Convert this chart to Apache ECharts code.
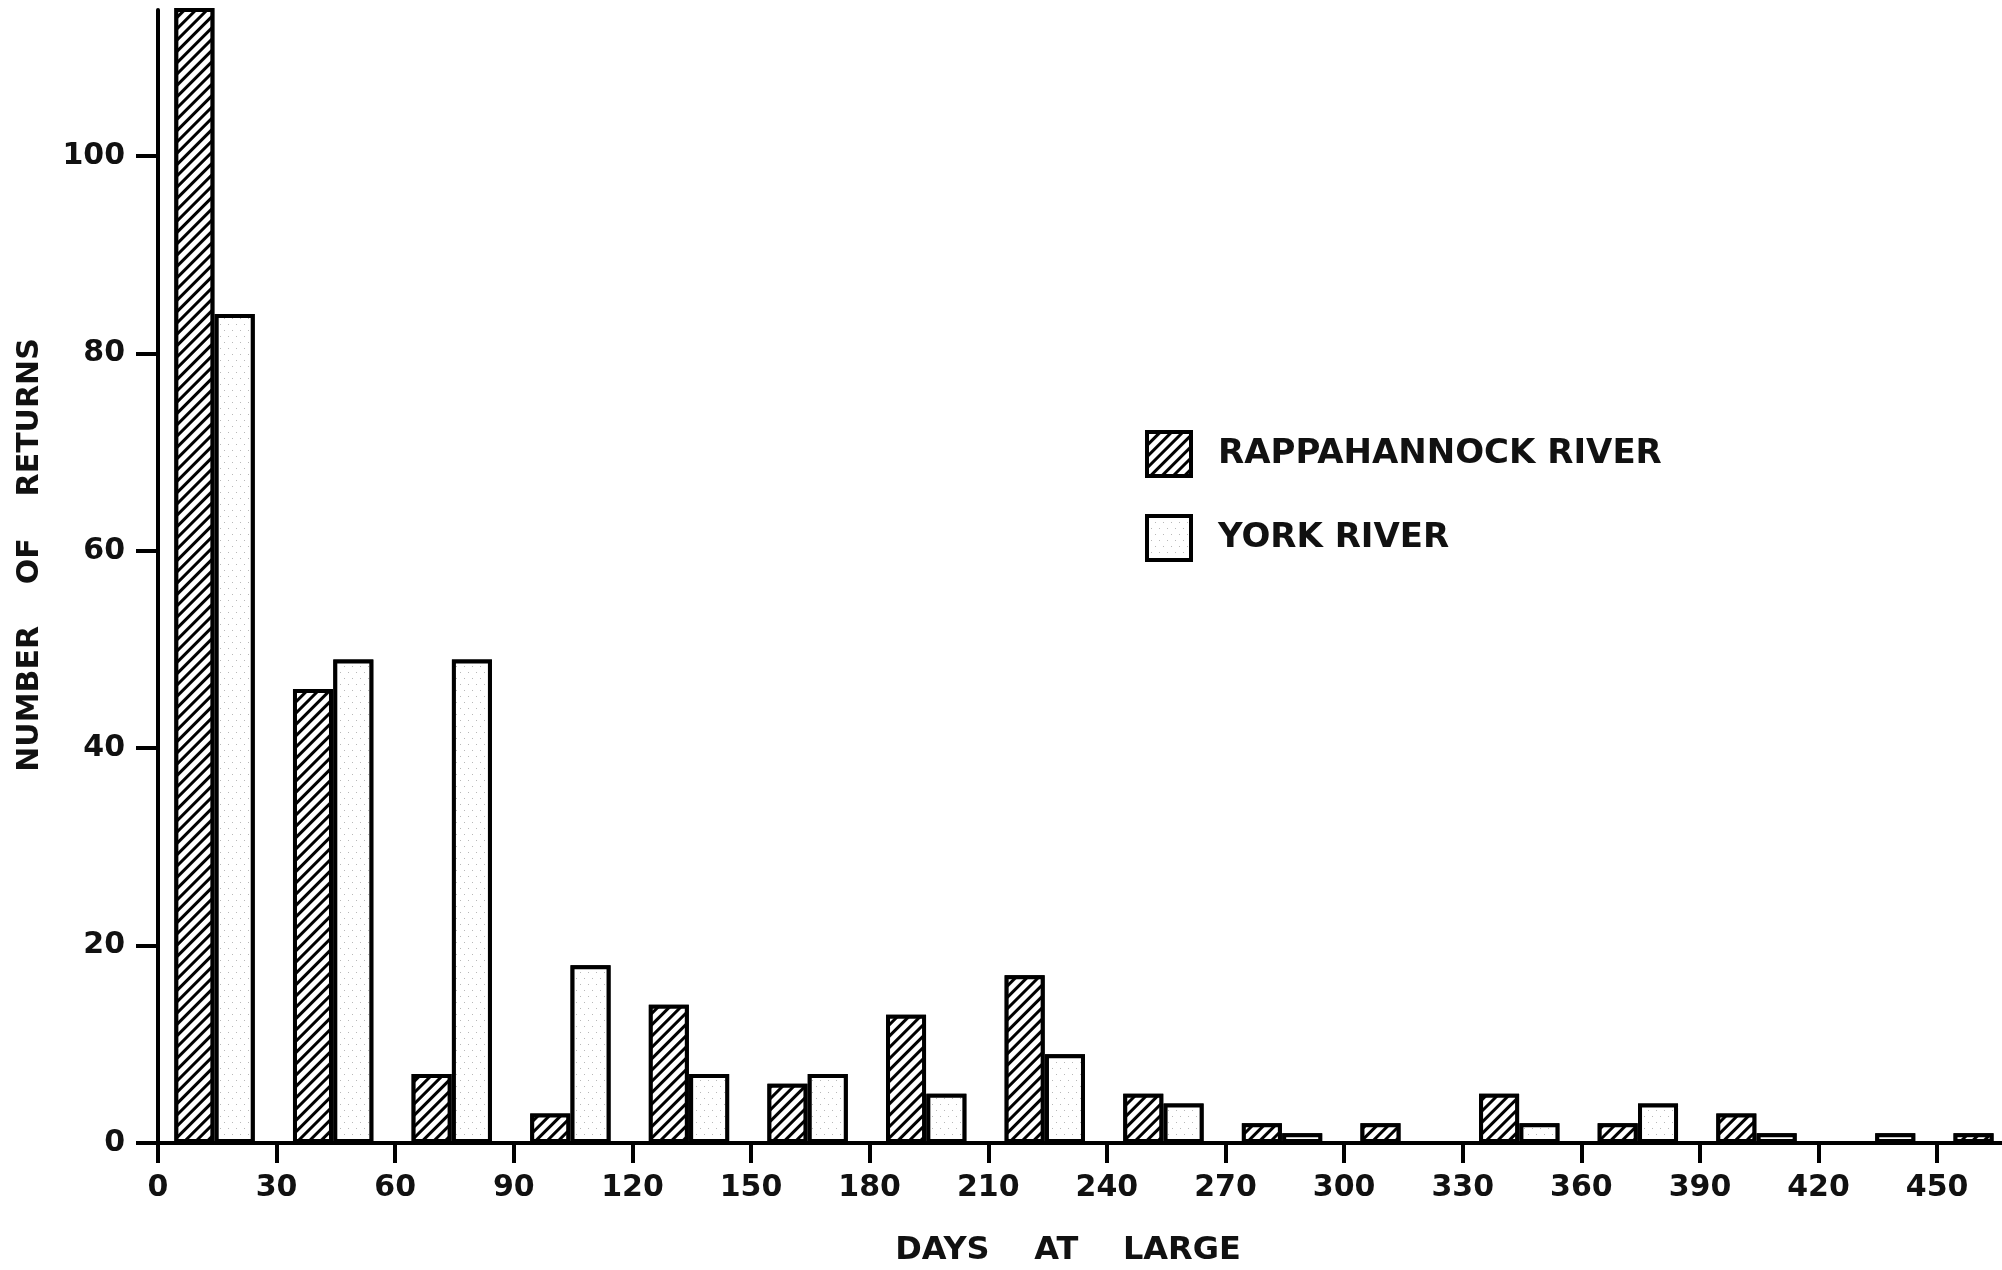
<!DOCTYPE html>
<html><head><meta charset="utf-8">
<script src="https://cdn.jsdelivr.net/npm/echarts@6/dist/echarts.min.js"></script>
<style>html,body{margin:0;padding:0;background:#fff}#c{width:2002px;height:1270px}</style>
</head><body><div id="c"></div>
<script>
// Days-at-large bins (start of each 30-day bin)
const binStarts = [0, 30, 60, 90, 120, 150, 180, 210, 240, 270, 300, 330, 360, 390, 420, 450];
// Number of returns (first Rappahannock bar is broken off above the axis top)
const rappahannock = [120, 46, 7, 3, 14, 6, 13, 17, 5, 2, 2, 5, 2, 3, 0, 1];
const york = [84, 49, 49, 18, 7, 7, 5, 9, 4, 1, 0, 2, 4, 1, 1, 0];
const xTickValues = [0, 30, 60, 90, 120, 150, 180, 210, 240, 270, 300, 330, 360, 390, 420, 450];
const yTickValues = [0, 20, 40, 60, 80, 100];
const seriesNames = ['RAPPAHANNOCK RIVER', 'YORK RIVER'];

const FONT = 'DejaVu Sans';
const X_MAX = 466.4, Y_MAX = 114.8;
const R_OFFSET = 9.2, Y_OFFSET = 19.4; // bar centre within bin (days)
const BAR_W = 40;

const chart = echarts.init(document.getElementById('c'), null, {renderer: 'canvas'});

const hatch = {
  symbol: 'rect', symbolSize: 1, color: '#000', backgroundColor: '#fff',
  dashArrayX: [1, 0], dashArrayY: [2.4, 4.4], rotation: -Math.PI / 4
};
const stipple = {
  symbol: 'rect', symbolSize: 1, color: '#b8b8b8', backgroundColor: '#fff',
  dashArrayX: [[1, 7], [0, 4, 1, 3]], dashArrayY: [1, 5], rotation: 0
};

chart.setOption({
  animation: false,
  backgroundColor: '#fff',
  grid: {left: 158, right: 0, top: 10, bottom: 127, containLabel: false},
  legend: {
    orient: 'vertical', left: 1140, top: 425,
    itemWidth: 44, itemHeight: 44, itemGap: 36,
    icon: 'rect',
    data: seriesNames,
    textStyle: {fontFamily: FONT, fontWeight: 'bold', fontSize: 34, color: '#111', padding: [0, 0, 0, 22]},
    itemStyle: {borderColor: '#000', borderWidth: 4}
  },
  xAxis: {
    type: 'value', min: 0, max: X_MAX,
    splitLine: {show: false},
    axisLine: {show: true, onZero: false, lineStyle: {color: '#000', width: 4}},
    axisTick: {show: true, length: 20, lineStyle: {color: '#000', width: 4}, customValues: xTickValues},
    axisLabel: {customValues: xTickValues, margin: 30, fontFamily: FONT, fontWeight: 'bold', fontSize: 30, color: '#111'}
  },
  yAxis: {
    type: 'value', min: 0, max: Y_MAX,
    splitLine: {show: false},
    axisLine: {show: true, lineStyle: {color: '#000', width: 4}},
    axisTick: {show: true, length: 22, lineStyle: {color: '#000', width: 4}, customValues: yTickValues},
    axisLabel: {customValues: yTickValues, margin: 33, fontFamily: FONT, fontWeight: 'bold', fontSize: 30, color: '#111'}
  },
  graphic: [
    {type: 'text', x: 30, y: 555, rotation: Math.PI / 2,
     style: {text: 'NUMBER    OF    RETURNS', fontFamily: FONT, fontWeight: 'bold', fontSize: 30,
             fill: '#111', align: 'center', verticalAlign: 'middle'}},
    {type: 'text', x: 1068, y: 1251,
     style: {text: 'DAYS    AT    LARGE', fontFamily: FONT, fontWeight: 'bold', fontSize: 32,
             fill: '#111', align: 'center', verticalAlign: 'middle'}}
  ],
  series: [
    {
      name: seriesNames[0], type: 'bar', barWidth: BAR_W, barGap: '-100%', clip: true,
      data: binStarts.map((b, i) => [b + R_OFFSET, rappahannock[i]]),
      itemStyle: {color: '#fff', borderColor: '#000', borderWidth: 4, decal: hatch}
    },
    {
      name: seriesNames[1], type: 'bar', barWidth: BAR_W, barGap: '-100%', clip: true,
      data: binStarts.map((b, i) => [b + Y_OFFSET, york[i]]),
      itemStyle: {color: '#fff', borderColor: '#000', borderWidth: 4, decal: stipple}
    }
  ]
});
</script></body></html>
